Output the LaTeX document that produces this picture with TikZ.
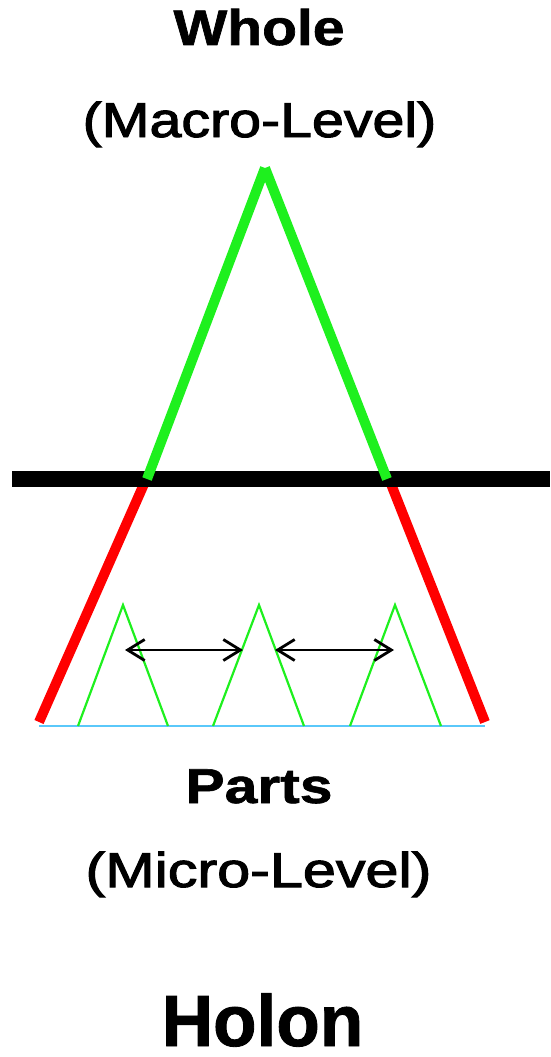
\documentclass[tikz,border=0pt]{standalone}
\usepackage{fontspec}
\usepackage{graphicx}
\setmainfont{Liberation Sans}
\newfontface\medface{Liberation Sans}[FakeBold=2]
\newfontface\heavyface{Liberation Sans Bold}[FakeBold=1.2]
\usetikzlibrary{arrows.meta}
\definecolor{gr}{RGB}{30,240,30}
\definecolor{rd}{RGB}{255,0,0}
\definecolor{cy}{RGB}{90,200,250}
\tikzset{
  lbl/.style={anchor=base,inner sep=0pt,outer sep=0pt},
  thick line/.style={line width=10pt,line cap=butt},
  small tri/.style={draw=gr,line width=2.2pt,line join=miter},
  link/.style={line width=2pt,{Straight Barb[length=17pt,width=21pt,line width=2.8pt]}-{Straight Barb[length=17pt,width=21pt,line width=2.8pt]}}
}
\begin{document}
\begin{tikzpicture}[x=1pt,y=-1pt]
\useasboundingbox (0,0) rectangle (550,1057);
% texts
\node[lbl] (whole) at (259,45) {\fontsize{50}{50}\heavyface\scalebox{1.14}[1]{Whole}};
\node[lbl] (macro) at (259.5,137) {\fontsize{49}{49}\medface\scalebox{1.17}[1]{(Macro-Level)}};
\node[lbl] (parts) at (259,803) {\fontsize{49}{49}\heavyface\scalebox{1.2}[1]{Parts}};
\node[lbl] (micro) at (258.5,887) {\fontsize{49}{49}\medface\scalebox{1.21}[1]{(Micro-Level)}};
\node[lbl] (holon) at (262.5,1046) {\fontsize{72.6}{72.6}\heavyface\scalebox{0.98}[1]{Holon}};
% key points
\coordinate (apex) at (265,168);
\coordinate (lx) at (147,479);
\coordinate (rx) at (387,479);
\coordinate (lr) at (144,484);
\coordinate (rr) at (391,484);
\coordinate (lb) at (39,722);
\coordinate (rb) at (485,722);
\coordinate (hl) at (12,479);
\coordinate (hr) at (550,479);
% red lower sides
\draw[thick line,draw=rd] (lr) -- (lb);
\draw[thick line,draw=rd] (rr) -- (rb);
% black horizontal line
\draw[line width=16pt,line cap=butt] (hl) -- (hr);
% green upper sides
\draw[thick line,draw=gr] (apex) -- (lx);
\draw[thick line,draw=gr] (apex) -- (rx);
% base
\coordinate (bl) at (39,726);
\coordinate (br) at (485,726);
\draw[cy,line width=2pt] (bl) -- (br);
% small triangles
\draw[small tri] (78,726) -- (123,605) coordinate (t1) -- (168,726);
\draw[small tri] (213,726) -- (259,605) coordinate (t2) -- (304,726);
\draw[small tri] (350,726) -- (395,605) coordinate (t3) -- (441,726);
% arrows
\coordinate (a1) at (125,650);
\coordinate (a2) at (243,650);
\coordinate (a3) at (275,650);
\coordinate (a4) at (394,650);
\draw[link] (a1) -- (a2);
\draw[link] (a3) -- (a4);
\end{tikzpicture}
\end{document}
